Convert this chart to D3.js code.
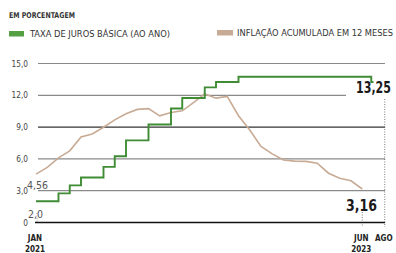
<!DOCTYPE html>
<html lang="pt">
  <head>
    <meta charset="utf-8" />
    <script src="https://d3js.org/d3.v7.min.js"></script>
    <style>
      body {
        margin: 0;
        background: #fff;
      }
      svg text {
        font-family: 'Liberation Sans Narrow', 'DejaVu Sans Condensed', 'Roboto', sans-serif;
      }
    </style>
  </head>

  <body>
    <svg id="chart" width="396" height="253"></svg>
    <script>
      // Inflação acumulada em 12 meses (IPCA), jan/2021 a jun/2023
      const inflacao = [
        4.56, 5.2, 6.1, 6.76, 8.06, 8.35, 8.99, 9.68, 10.25, 10.67, 10.74, 10.06,
        10.38, 10.54, 11.3, 12.13, 11.73, 11.89, 10.07, 8.73, 7.17, 6.47, 5.9, 5.79,
        5.77, 5.6, 4.65, 4.18, 3.94, 3.16,
      ];
      // Selic: mês (a partir de jan/2021) em que a taxa muda, e o novo valor
      const selicMes = [0, 2, 3, 4, 6, 7, 8, 10, 12, 13, 15, 16, 18, 29.8, 30];
      const selicValor = [
        2.0, 2.75, 3.5, 4.25, 5.25, 6.25, 7.75, 9.25, 10.75, 11.75, 12.75, 13.25,
        13.75, 13.25, 13.25,
      ];
      const yTicks = [15, 12, 9, 6, 3];
      const xTicks = [
        { m: 0, l1: 'JAN', l2: '2021' },
        { m: 29, l1: 'JUN', l2: '2023' },
        { m: 31, l1: 'AGO', l2: '' },
      ];

      const svg = d3.select('#chart');
      const green = '#3f8c34';
      const tan = '#c8ab95';

      const x = d3.scaleLinear().domain([0, 31]).range([36, 384.75]);
      const y = d3.scaleLinear().domain([0, 15]).range([222.5, 63.5]);
      const fmt = (v, d) => v.toFixed(d).replace('.', ',');

      // squeeze a text horizontally to a given width (condensed look)
      function squeezed(px, py, width, txt, attrs) {
        const g = svg.append('g');
        const t = g.append('text').text(txt);
        Object.entries(attrs).forEach(([k, v]) => t.attr(k, v));
        const len = t.node().getComputedTextLength();
        g.attr('transform', `translate(${px},${py}) scale(${width / len},1)`);
        return t;
      }

      // header + legend
      squeezed(9, 17.5, 66, 'EM PORCENTAGEM',
        { 'font-size': 8, 'font-weight': 'bold', fill: '#333' });
      svg.append('rect').attr('x', 9).attr('y', 31).attr('width', 15).attr('height', 5.5)
        .attr('fill', '#54a043');
      squeezed(30, 37.2, 140, 'TAXA DE JUROS BÁSICA (AO ANO)',
        { 'font-size': 8.8, fill: '#333' });
      svg.append('rect').attr('x', 217).attr('y', 30).attr('width', 16).attr('height', 5.5)
        .attr('fill', tan);
      squeezed(237, 36.2, 156, 'INFLAÇÃO ACUMULADA EM 12 MESES',
        { 'font-size': 8.8, fill: '#333' });

      // grid
      svg.append('g').selectAll('line').data(yTicks).join('line')
        .attr('x1', 38)
        .attr('x2', (d) => (d === 12 ? 346 : 385))
        .attr('y1', (d) => y(d)).attr('y2', (d) => y(d))
        .attr('stroke', (d) => (d === 9 ? '#333' : '#8a8a8a'))
        .attr('stroke-width', 1.2);
      svg.append('g').selectAll('text').data(yTicks.concat([0])).join('text')
        .attr('x', 28).attr('y', (d) => y(d) + 3)
        .attr('text-anchor', 'end').attr('font-size', 8.2).attr('fill', '#444')
        .text((d) => (d === 0 ? '0' : fmt(d, 1)));

      // dotted guides
      svg.append('line')
        .attr('x1', x(29)).attr('x2', x(29)).attr('y1', 212).attr('y2', 227)
        .attr('stroke', '#555').attr('stroke-width', 0.8).attr('stroke-dasharray', '1,1.5');
      svg.append('line')
        .attr('x1', x(31)).attr('x2', x(31)).attr('y1', 99).attr('y2', 227)
        .attr('stroke', '#555').attr('stroke-width', 0.8).attr('stroke-dasharray', '1,1.5');
      svg.append('line')
        .attr('x1', x(0) + 1).attr('x2', x(0) + 1).attr('y1', 213).attr('y2', 222)
        .attr('stroke', '#777').attr('stroke-width', 0.8).attr('stroke-dasharray', '1,1.5');

      // baseline
      svg.append('line')
        .attr('x1', 35).attr('x2', 385).attr('y1', y(0)).attr('y2', y(0))
        .attr('stroke', '#111').attr('stroke-width', 1.6);

      // lines
      const infLine = d3.line().x((d, i) => x(i)).y((d) => y(d));
      svg.append('path').datum(inflacao)
        .attr('d', infLine).attr('fill', 'none')
        .attr('stroke', tan).attr('stroke-width', 1.6);

      const selic = selicMes.map((m, i) => [m, selicValor[i]]);
      const selicLine = d3.line().curve(d3.curveStepAfter)
        .x((d) => x(d[0])).y((d) => y(d[1]));
      svg.append('path').datum(selic)
        .attr('d', selicLine).attr('fill', 'none')
        .attr('stroke', green).attr('stroke-width', 1.9);

      // value labels
      squeezed(x(0) - 9, y(inflacao[0]) + 15, 21, fmt(inflacao[0], 2),
        { 'font-size': 11, fill: '#555' });
      squeezed(x(0) - 8, y(selicValor[0]) + 16.5, 15, fmt(selicValor[0], 1),
        { 'font-size': 11, fill: '#555' });
      const last = selicValor[selicValor.length - 1];
      squeezed(356, y(last) + 10.5, 35, fmt(last, 2),
        { 'font-size': 16, 'font-weight': 'bold', fill: '#1a1a1a' });
      const lastInf = inflacao[inflacao.length - 1];
      squeezed(346, y(lastInf) + 22, 31, fmt(lastInf, 2),
        { 'font-size': 16, 'font-weight': 'bold', fill: '#1a1a1a' });

      // x labels
      const xl = svg.append('g').selectAll('text').data(xTicks).join('text')
        .attr('text-anchor', 'middle').attr('font-size', 8)
        .attr('font-weight', 'bold').attr('fill', '#222');
      xl.append('tspan').attr('x', (d) => x(d.m) - 1).attr('y', 241).text((d) => d.l1);
      xl.append('tspan').attr('x', (d) => x(d.m) - 1).attr('y', 251.5).text((d) => d.l2);
    </script>
  </body>
</html>
